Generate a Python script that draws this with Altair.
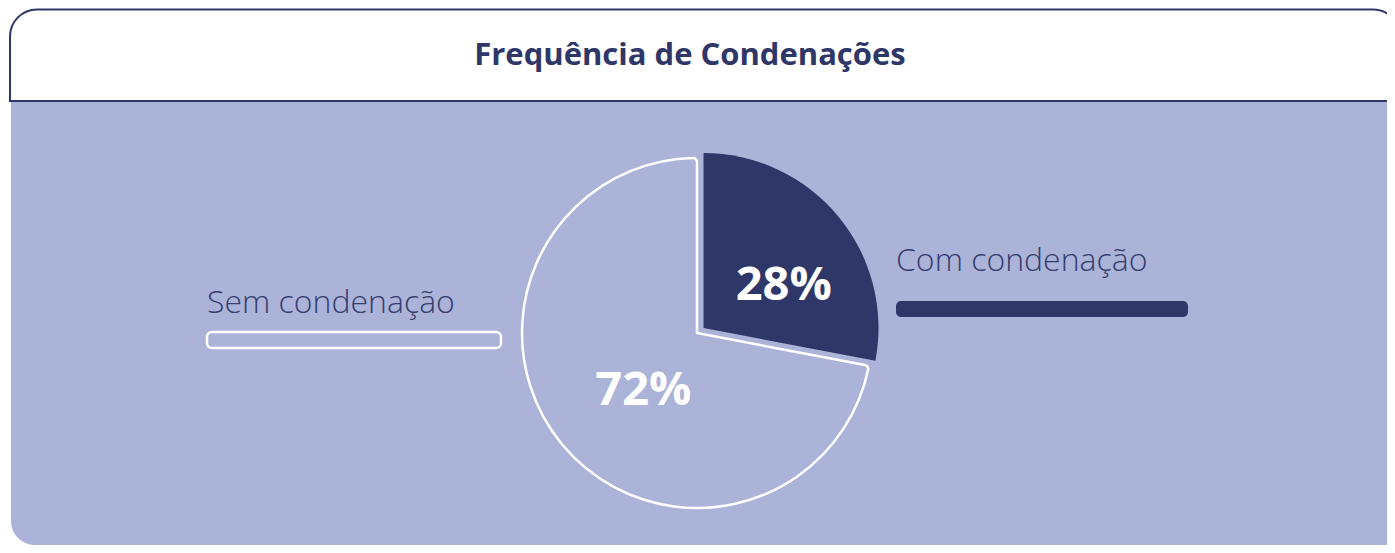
import altair as alt
import pandas as pd

# ---- data ----
categorias = ["Com condenação", "Sem condenação"]
valores = [28, 72]
rotulos = ["28%", "72%"]
ordem = [0, 1]
titulo = "Frequência de Condenações"

NAVY = "#2F3768"
BG = "#ABB3D9"
TXT = "#363E6E"
FONT = "Open Sans"

df = pd.DataFrame({"categoria": categorias, "valor": valores, "rotulo": rotulos, "ordem": ordem})
blank = alt.Data(values=[{}])

is_com = "datum.categoria == 'Com condenação'"
is_sem = "datum.categoria == 'Sem condenação'"

# ---- card ----
body = alt.Chart(blank).mark_rect(fill=BG, cornerRadiusBottomLeft=24).encode(
    x=alt.value(3), x2=alt.value(1400), y=alt.value(93), y2=alt.value(537)
)
header = alt.Chart(blank).mark_rect(
    fill="white", stroke=NAVY, strokeWidth=2,
    cornerRadiusTopLeft=27, cornerRadiusTopRight=27
).encode(x=alt.value(2), x2=alt.value(1392), y=alt.value(1.5), y2=alt.value(93))
title = alt.Chart(blank).mark_text(
    text=titulo, font=FONT, fontSize=31, fontWeight="bold", color=NAVY,
    align="center", baseline="alphabetic"
).encode(x=alt.value(682), y=alt.value(57))

# ---- pie ----
base = alt.Chart(df).encode(
    theta=alt.Theta("valor:Q", stack=True),
    order=alt.Order("ordem:Q"),
)
arc_sem = base.mark_arc(outerRadius=175, fill=BG, stroke="white", strokeWidth=2.5, cornerRadius=4).encode(
    x=alt.value(689), y=alt.value(325),
    opacity=alt.condition(is_sem, alt.value(1), alt.value(0)),
)
arc_com = base.mark_arc(outerRadius=175, fill=NAVY).encode(
    x=alt.value(695.5), y=alt.value(320),
    opacity=alt.condition(is_com, alt.value(1), alt.value(0)),
)
lbl_com = base.mark_text(
    radius=95, font=FONT, fontSize=47, fontWeight="bold", color="white",
    align="center", baseline="alphabetic", dx=7, dy=33
).encode(
    x=alt.value(695.5), y=alt.value(320), text="rotulo:N",
    opacity=alt.condition(is_com, alt.value(1), alt.value(0)),
)
lbl_sem = base.mark_text(
    radius=80, font=FONT, fontSize=47, fontWeight="bold", color="white",
    align="center", baseline="alphabetic", dx=8, dy=21
).encode(
    x=alt.value(689), y=alt.value(325), text="rotulo:N",
    opacity=alt.condition(is_sem, alt.value(1), alt.value(0)),
)

# ---- legend-like labels ----
leg_com_txt = alt.Chart(df).transform_filter(is_com).mark_text(
    font=FONT, fontSize=32, fontWeight=300, color=TXT, align="left", baseline="alphabetic"
).encode(x=alt.value(888), y=alt.value(263), text="categoria:N")
leg_com_bar = alt.Chart(df).transform_filter(is_com).mark_rect(fill=NAVY, cornerRadius=5).encode(
    x=alt.value(888), x2=alt.value(1180), y=alt.value(293), y2=alt.value(309)
)
leg_sem_txt = alt.Chart(df).transform_filter(is_sem).mark_text(
    font=FONT, fontSize=32, fontWeight=300, color=TXT, align="left", baseline="alphabetic"
).encode(x=alt.value(199), y=alt.value(305), text="categoria:N")
leg_sem_bar = alt.Chart(df).transform_filter(is_sem).mark_rect(
    fill=BG, stroke="white", strokeWidth=2.5, cornerRadius=5
).encode(x=alt.value(199), x2=alt.value(493), y=alt.value(324), y2=alt.value(340))

chart = alt.layer(
    body, header, title,
    arc_sem, arc_com, lbl_com, lbl_sem,
    leg_com_txt, leg_com_bar, leg_sem_txt, leg_sem_bar,
).properties(
    width=1379, height=537, padding=0,
    autosize=alt.AutoSizeParams(type="none"),
    background="white",
).configure_view(stroke=None)

chart.save("out.html", embed_options={"renderer": "svg", "actions": False})
